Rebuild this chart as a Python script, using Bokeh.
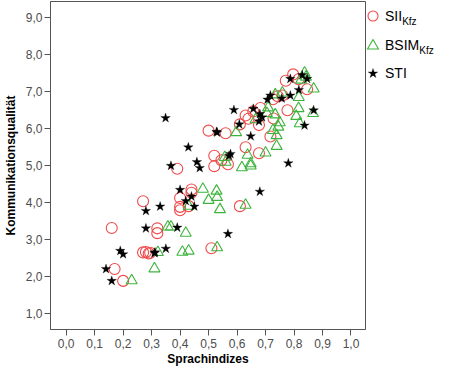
import math
from bokeh.plotting import figure
from bokeh.layouts import row
from bokeh.models import Range1d, FixedTicker, CustomJSTickFormatter, Div
from bokeh.embed import file_html
from bokeh.resources import INLINE

# ---- data ----
sii_x = [0.16, 0.17, 0.20, 0.27, 0.32, 0.32, 0.27, 0.28, 0.29, 0.295, 0.39, 0.40,
         0.40, 0.40, 0.44, 0.44, 0.43, 0.51, 0.61, 0.52, 0.52, 0.545, 0.568, 0.50,
         0.56, 0.63, 0.677, 0.61, 0.677, 0.717, 0.63, 0.64, 0.657, 0.682, 0.728,
         0.777, 0.726, 0.743, 0.759, 0.771, 0.797, 0.816, 0.846]
sii_y = [3.32, 2.21, 1.89, 4.04, 3.31, 3.18, 2.66, 2.67, 2.63, 2.65, 4.92, 4.13,
         3.89, 3.80, 4.36, 4.27, 3.91, 2.77, 3.91, 4.99, 5.27, 5.15, 5.04, 5.95,
         5.88, 5.50, 5.34, 6.12, 6.10, 5.79, 6.36, 6.27, 6.47, 6.56, 6.28,
         6.50, 6.80, 6.88, 6.90, 7.30, 7.47, 7.34, 7.07]

bsim_x = [0.23, 0.31, 0.322, 0.357, 0.368, 0.42, 0.408, 0.43, 0.53, 0.43, 0.48,
          0.528, 0.53, 0.50, 0.54, 0.63, 0.557, 0.56, 0.617, 0.648, 0.648, 0.637,
          0.70, 0.739, 0.597, 0.726, 0.739, 0.745, 0.75, 0.665, 0.709, 0.734,
          0.705, 0.816, 0.808, 0.82, 0.867, 0.817, 0.869, 0.734, 0.759, 0.837,
          0.842, 0.825]
bsim_y = [1.90, 2.22, 2.66, 3.35, 3.35, 3.18, 2.67, 2.70, 2.79, 3.91, 4.37,
          4.32, 4.15, 4.07, 3.82, 3.94, 5.23, 5.10, 4.95, 5.06, 5.00, 5.29,
          5.35, 5.53, 5.90, 5.96, 5.82, 6.05, 6.17, 6.25, 6.57, 6.38,
          6.42, 6.55, 6.34, 6.14, 6.42, 6.85, 7.08, 6.92, 6.97, 7.51,
          7.40, 7.32]

sti_x = [0.14, 0.16, 0.19, 0.20, 0.28, 0.33, 0.28, 0.39, 0.31, 0.312, 0.35, 0.368,
         0.40, 0.42, 0.44, 0.45, 0.459, 0.469, 0.429, 0.349, 0.528, 0.53, 0.577,
         0.572, 0.568, 0.68, 0.78, 0.589, 0.608, 0.648, 0.657, 0.68, 0.688, 0.677,
         0.717, 0.707, 0.757, 0.787, 0.817, 0.837, 0.869, 0.787, 0.829, 0.846]
sti_y = [2.21, 1.89, 2.70, 2.61, 3.78, 3.90, 3.31, 3.33, 2.64, 2.66, 2.76, 5.00,
         4.35, 4.05, 4.17, 3.90, 5.10, 4.94, 5.50, 6.29, 5.92, 5.90, 5.32,
         5.27, 3.16, 4.30, 5.07, 6.51, 6.12, 5.80, 6.54, 6.40, 6.31, 6.20,
         6.90, 6.79, 6.82, 6.90, 7.05, 6.09, 6.50, 7.35, 7.45, 7.35]

x_ticks = [0.0, 0.1, 0.2, 0.3, 0.4, 0.5, 0.6, 0.7, 0.8, 0.9, 1.0]
y_ticks = [1, 2, 3, 4, 5, 6, 7, 8, 9]
series_names = ["SII", "BSIM", "STI"]
series_subs = ["Kfz", "Kfz", ""]

RED = "#f04a4a"
GREEN = "#3cb43c"
FONT = "Liberation Sans"
GRAY = "#4d4d4d"
H = 368
PW = 366
LW = 69

p = figure(width=PW, height=H, output_backend="svg", toolbar_location=None,
           x_range=Range1d(-0.055, 1.051), y_range=Range1d(0.576, 9.44),
           min_border_left=45, min_border_right=1, min_border_top=1,
           min_border_bottom=37)
p.grid.visible = False
p.outline_line_color = "#555555"
p.outline_line_width = 1

p.scatter(sii_x, sii_y, marker="circle", size=11, fill_color=None,
          line_color=RED, line_width=1.1)
p.scatter(bsim_x, bsim_y, marker="triangle", size=11, fill_color=None,
          line_color=GREEN, line_width=1.1)
p.scatter(sti_x, sti_y, marker="star", size=10, fill_color="black",
          line_color="black", line_width=0.3)

fmt = CustomJSTickFormatter(code="return tick.toFixed(1).replace('.', ',');")
for ax, ticks in ((p.xaxis[0], x_ticks), (p.yaxis[0], y_ticks)):
    ax.ticker = FixedTicker(ticks=ticks)
    ax.formatter = fmt
    ax.minor_tick_line_color = None
    ax.major_tick_out = 6
    ax.major_tick_in = 0
    ax.axis_line_color = "#555555"
    ax.major_tick_line_color = "#555555"
    ax.major_label_text_font = FONT
    ax.major_label_text_font_size = "12px"
    ax.major_label_text_color = GRAY
    ax.axis_label_text_font = FONT
    ax.axis_label_text_font_size = "12px"
    ax.axis_label_text_font_style = "bold"
    ax.axis_label_text_color = "black"

p.xaxis.axis_label = "Sprachindizes"
p.yaxis.axis_label = "Kommunikationsqualität"
p.xaxis.major_label_standoff = 3
p.xaxis.axis_label_standoff = 1
p.yaxis.major_label_standoff = 2
p.yaxis.axis_label_standoff = 5

# ---- legend as HTML (allows real subscripts) ----
def star_points(cx, cy, ro, ri):
    pts = []
    for k in range(10):
        r = ro if k % 2 == 0 else ri
        a = -math.pi / 2 + k * math.pi / 5
        pts.append(f"{cx + r * math.cos(a):.2f},{cy + r * math.sin(a):.2f}")
    return " ".join(pts)

icons = [
    f'<circle cx="7" cy="10" r="5" fill="none" stroke="{RED}" stroke-width="1.1"/>',
    f'<polygon points="7,4.5 12.5,14 1.5,14" fill="none" stroke="{GREEN}" stroke-width="1.1"/>',
    f'<polygon points="{star_points(7, 10.5, 5, 1.9)}" fill="black" stroke="black" stroke-width="0.3"/>',
]
tops = [6, 34.7, 63]
entries = []
for name, sub, icon, top in zip(series_names, series_subs, icons, tops):
    sub_html = (f'<span style="font-size:10px;position:relative;top:4px;">{sub}</span>'
                if sub else "")
    entries.append(
        f'<div style="position:absolute;left:0px;top:{top}px;height:20px;'
        f'white-space:nowrap;">'
        f'<svg width="14" height="20" style="position:absolute;left:0px;top:0px;">{icon}</svg>'
        f'<span style="position:absolute;left:19px;top:2px;font-size:14px;'
        f'line-height:16px;">{name}{sub_html}</span></div>')
html = (f'<div style="position:relative;width:{LW}px;height:{H - 10}px;overflow:visible;'
        f'font-family:\'{FONT}\',Arial,sans-serif;color:#000;">' + "".join(entries) + "</div>")

leg = Div(text=html, width=LW, height=H, margin=0)

layout = row(p, leg, spacing=0)
open("out.html", "w").write(file_html(layout, INLINE))
